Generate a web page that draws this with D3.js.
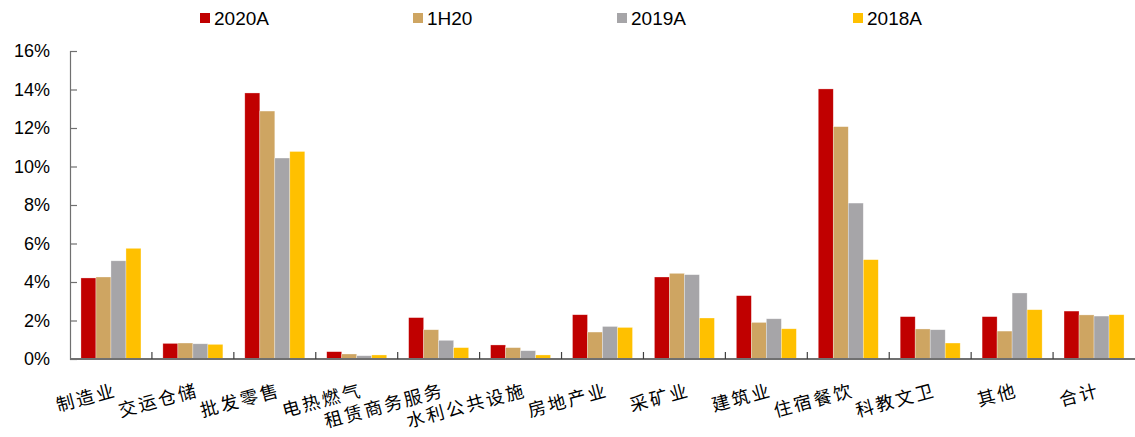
<!DOCTYPE html>
<html>
<head>
<meta charset="utf-8">
<script src="https://cdn.jsdelivr.net/npm/d3@7"></script>
<style>
  body { margin: 0; background: #fff; }
  text { font-family: "Liberation Sans", Arial, sans-serif; fill: #000; }
  .cat text { font-family: "Noto Sans CJK SC", sans-serif; }
</style>
</head>
<body>
<div id="chart"></div>
<script>
const categories = ["制造业", "交运仓储", "批发零售", "电热燃气", "租赁商务服务", "水利公共设施",
  "房地产业", "采矿业", "建筑业", "住宿餐饮", "科教文卫", "其他", "合计"];
const seriesNames = ["2020A", "1H20", "2019A", "2018A"];
const v2020A = [4.21, 0.81, 13.82, 0.38, 2.15, 0.73, 2.30, 4.26, 3.29, 14.03, 2.20, 2.20, 2.49];
const v1H20  = [4.26, 0.83, 12.88, 0.26, 1.52, 0.59, 1.40, 4.45, 1.90, 12.07, 1.56, 1.45, 2.29];
const v2019A = [5.10, 0.79, 10.44, 0.17, 0.97, 0.43, 1.69, 4.38, 2.09, 8.10, 1.52, 3.43, 2.23];
const v2018A = [5.75, 0.76, 10.78, 0.21, 0.59, 0.21, 1.64, 2.13, 1.57, 5.16, 0.83, 2.56, 2.30];
const yTicks = [0, 2, 4, 6, 8, 10, 12, 14, 16];
const colors = ["#C00000", "#CEA562", "#A6A5A8", "#FFC000"];

const values = [v2020A, v1H20, v2019A, v2018A];
const data = categories.map((c, i) => ({cat: c, vals: values.map(s => s[i])}));

const width = 1135, height = 437;
const margin = {top: 51, right: 0, bottom: 78, left: 70};

const svg = d3.select("#chart").append("svg")
    .attr("width", width)
    .attr("height", height);

const x = d3.scaleBand()
    .domain(categories)
    .range([margin.left, width - margin.right])
    .paddingInner(0);
const inner = d3.scaleBand()
    .domain(seriesNames)
    .range([0, x.bandwidth()])
    .paddingOuter(0.73)
    .paddingInner(0);
const y = d3.scaleLinear()
    .domain([0, 16])
    .range([height - margin.bottom, margin.top]);

// bars
const groups = svg.append("g").selectAll("g")
  .data(data)
  .join("g")
    .attr("transform", d => `translate(${x(d.cat)},0)`);
groups.selectAll("rect")
  .data(d => d.vals.map((v, k) => ({name: seriesNames[k], v: v, k: k})))
  .join("rect")
    .attr("x", d => inner(d.name))
    .attr("y", d => y(d.v))
    .attr("width", inner.bandwidth())
    .attr("height", d => y(0) - y(d.v))
    .attr("fill", d => colors[d.k])
    .attr("stroke", "#fff")
    .attr("stroke-opacity", 0.5)
    .attr("stroke-width", 0.6);

// y axis
const yAxis = svg.append("g")
  .attr("transform", `translate(${margin.left},0)`)
  .call(d3.axisLeft(y).tickValues(yTicks).tickSize(-7).tickFormat(d => d + "%"));
yAxis.select(".domain").attr("stroke", "#707070").attr("stroke-width", 1.2);
yAxis.selectAll(".tick line").attr("stroke", "#707070").attr("stroke-width", 1.2);
yAxis.selectAll(".tick text")
  .attr("x", -20)
  .attr("font-size", 18)
  .style("font-family", "'Liberation Sans', Arial, sans-serif");

// x axis with ticks at category boundaries
const xg = svg.append("g").attr("class", "cat");
xg.append("line")
  .attr("x1", margin.left).attr("x2", width)
  .attr("y1", y(0)).attr("y2", y(0))
  .attr("stroke", "#707070").attr("stroke-width", 2);
xg.selectAll("line.tk")
  .data(categories.slice(1))
  .join("line")
    .attr("class", "tk")
    .attr("x1", d => x(d)).attr("x2", d => x(d))
    .attr("y1", y(0)).attr("y2", y(0) - 7)
    .attr("stroke", "#404040").attr("stroke-width", 1.2);
xg.selectAll("text")
  .data(categories)
  .join("text")
    .attr("transform", d => `translate(${x(d) + x.bandwidth() / 2 + 3},${y(0) + 23}) rotate(-15)`)
    .attr("text-anchor", "end")
    .attr("dy", "0.8em")
    .attr("font-size", 18)
    .attr("letter-spacing", 2.5)
    .text(d => d);

// legend
const legendX = [200, 413, 617, 853];
const legend = svg.append("g").selectAll("g")
  .data(seriesNames)
  .join("g")
    .attr("transform", (d, i) => `translate(${legendX[i]},13)`);
legend.append("rect")
  .attr("width", 10).attr("height", 10)
  .attr("fill", (d, i) => colors[i]);
legend.append("text")
  .attr("x", 14).attr("y", 5)
  .attr("dy", "0.36em")
  .attr("font-size", 19)
  .text(d => d);
</script>
</body>
</html>
